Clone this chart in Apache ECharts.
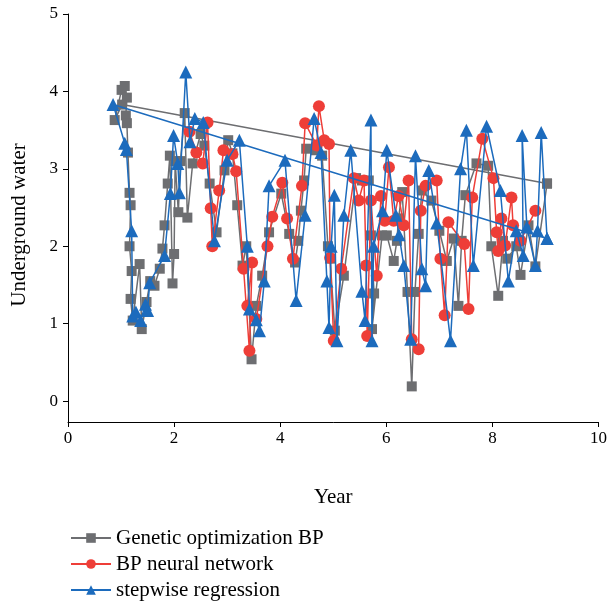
<!DOCTYPE html>
<html><head><meta charset="utf-8">
<script src="https://cdn.jsdelivr.net/npm/echarts@6/dist/echarts.min.js"></script>
<style>html,body{margin:0;padding:0;background:#fff}#c{width:610px;height:606px}</style>
</head><body><div id="c"></div>
<script>
const seriesNames = ['Genetic optimization BP', 'BP neural network', 'stepwise regression'];
const xTicks = [0, 2, 4, 6, 8, 10];
const yTicks = [0, 1, 2, 3, 4, 5];

const geneticBP = [
[9.03,2.81],[1.02,3.83],[0.88,3.63],[1.01,4.02],[1.07,4.07],[1.11,3.92],[1.09,3.69],[1.11,3.59],[1.13,3.21],[1.16,2.69],[1.18,2.53],[1.16,2.0],[1.2,1.68],[1.18,1.32],[1.22,1.04],[1.35,1.77],[1.39,0.93],[1.48,1.28],[1.55,1.55],[1.63,1.49],[1.73,1.71],[1.78,1.97],[1.82,2.27],[1.88,2.81],[1.92,3.17],[1.97,1.52],[2.0,1.9],[2.02,3.1],[2.08,2.44],[2.12,3.1],[2.2,3.72],[2.25,2.37],[2.35,3.07],[2.5,3.45],[2.57,3.3],[2.67,2.81],[2.8,2.18],[2.95,2.98],[3.02,3.37],[3.1,3.2],[3.19,2.53],[3.29,1.75],[3.36,2.0],[3.46,0.54],[3.55,1.23],[3.66,1.62],[3.79,2.18],[4.02,2.68],[4.17,2.16],[4.28,1.79],[4.34,2.07],[4.39,2.46],[4.45,2.85],[4.49,3.26],[4.66,3.24],[4.79,3.17],[4.9,2.0],[4.94,1.84],[5.03,0.91],[5.2,1.62],[5.43,2.88],[5.54,2.85],[5.67,2.85],[5.71,2.14],[5.77,1.39],[5.73,0.93],[5.92,2.14],[6.01,2.14],[6.14,1.81],[6.2,2.07],[6.23,2.36],[6.3,2.7],[6.4,1.41],[6.48,0.19],[6.54,1.41],[6.61,2.16],[6.67,2.72],[6.85,2.59],[7.0,2.2],[7.14,1.81],[7.27,2.1],[7.36,1.23],[7.42,2.07],[7.49,2.66],[7.7,3.07],[7.92,3.04],[7.98,2.0],[8.11,1.36],[8.2,2.07],[8.28,1.84],[8.45,2.0],[8.53,1.63],[8.68,2.27],[8.81,1.74],[9.03,2.81]
];

const bpNetwork = [
[2.29,3.48],[2.42,3.21],[2.54,3.07],[2.63,3.6],[2.69,2.49],[2.72,2.0],[2.85,2.72],[2.93,3.24],[3.1,3.19],[3.17,2.97],[3.31,1.71],[3.42,0.65],[3.47,1.79],[3.38,1.23],[3.55,1.06],[3.76,2.0],[3.85,2.38],[4.04,2.82],[4.13,2.36],[4.24,1.84],[4.41,2.78],[4.47,3.59],[4.69,3.3],[4.73,3.81],[4.83,3.37],[4.92,3.32],[4.94,1.85],[5.01,0.78],[5.15,1.71],[5.39,2.88],[5.48,2.59],[5.58,2.85],[5.62,1.75],[5.64,0.84],[5.71,2.59],[5.82,1.62],[5.9,2.65],[5.97,2.33],[6.05,3.02],[6.14,2.33],[6.23,2.65],[6.33,2.27],[6.42,2.85],[6.48,0.8],[6.61,0.67],[6.65,2.46],[6.74,2.78],[6.95,2.85],[7.02,1.84],[7.1,1.11],[7.17,2.31],[7.47,2.03],[7.55,1.19],[7.62,2.63],[7.81,3.39],[8.02,2.88],[8.08,2.18],[8.11,1.94],[8.17,2.36],[8.24,2.01],[8.36,2.63],[8.39,2.27],[8.53,2.07],[8.81,2.46]
];

const stepwise = [
[9.03,2.1],[0.85,3.83],[1.07,3.33],[1.1,3.25],[1.2,2.2],[1.22,1.1],[1.28,1.15],[1.37,1.04],[1.46,1.25],[1.5,1.17],[1.54,1.53],[1.82,1.88],[1.93,2.68],[1.99,3.43],[2.07,3.07],[2.1,2.69],[2.22,4.25],[2.3,3.35],[2.39,3.65],[2.55,3.6],[2.76,2.07],[3.0,3.11],[3.23,3.37],[3.38,2.0],[3.42,1.19],[3.55,1.05],[3.61,0.91],[3.7,1.55],[3.79,2.78],[4.09,3.11],[4.3,1.3],[4.47,2.4],[4.64,3.65],[4.77,3.21],[4.88,1.55],[4.92,0.95],[4.96,2.0],[5.02,2.66],[5.07,0.78],[5.2,2.4],[5.33,3.24],[5.54,1.42],[5.6,1.04],[5.71,3.63],[5.73,0.78],[5.76,2.0],[5.93,2.46],[6.01,3.24],[6.18,2.4],[6.24,2.15],[6.33,1.75],[6.46,0.8],[6.55,3.17],[6.67,1.71],[6.74,1.49],[6.8,2.98],[6.95,2.3],[7.21,0.78],[7.4,3.0],[7.51,3.5],[7.64,1.75],[7.89,3.55],[8.15,2.72],[8.3,1.55],[8.45,2.2],[8.58,1.88],[8.56,3.43],[8.65,2.25],[8.81,1.75],[8.85,2.2],[8.92,3.47],[9.03,2.1]
];

const colors = ['#6d6e71', '#ee3e38', '#1c6bbd'];
const serif = 'Liberation Serif';

const chart = echarts.init(document.getElementById('c'), null, {renderer: 'canvas'});
chart.setOption({
  animation: false,
  backgroundColor: '#fff',
  grid: {left: 68, right: 10, top: 14, bottom: 184},
  xAxis: {
    type: 'value', min: 0, max: 10, interval: 2,
    name: 'Year', nameLocation: 'middle', nameGap: 65,
    nameTextStyle: {fontFamily: serif, fontSize: 21, color: '#000'},
    axisLine: {onZero: false, lineStyle: {color: '#000', width: 1}},
    axisTick: {show: true, length: 5, lineStyle: {color: '#000'}},
    axisLabel: {fontFamily: serif, fontSize: 17, color: '#000', margin: 8},
    splitLine: {show: false}
  },
  yAxis: {
    type: 'value', min: -0.27, max: 5,
    name: 'Underground water', nameLocation: 'middle', nameGap: 38,
    nameTextStyle: {fontFamily: serif, fontSize: 21, color: '#000', padding: [0, 14, 0, 0]},
    axisLine: {show: true, onZero: false, lineStyle: {color: '#000', width: 1}},
    axisTick: {show: true, length: 5, lineStyle: {color: '#000'}, customValues: yTicks},
    axisLabel: {fontFamily: serif, fontSize: 17, color: '#000', margin: 10, customValues: yTicks},
    splitLine: {show: false}
  },
  legend: {
    orient: 'vertical', left: 70, top: 527, itemWidth: 40, itemHeight: 12, itemGap: 4,
    padding: 0,
    textStyle: {fontFamily: serif, fontSize: 21, lineHeight: 22, color: '#000'},
    data: seriesNames
  },
  series: [
    {name: seriesNames[0], type: 'line', data: geneticBP, symbol: 'rect', symbolSize: 10,
      lineStyle: {color: colors[0], width: 1.5}, itemStyle: {color: colors[0]}, z: 2},
    {name: seriesNames[1], type: 'line', data: bpNetwork, symbol: 'circle', symbolSize: 12,
      lineStyle: {color: colors[1], width: 1.5}, itemStyle: {color: colors[1]}, z: 3},
    {name: seriesNames[2], type: 'line', data: stepwise, symbol: 'triangle', symbolSize: 13,
      lineStyle: {color: colors[2], width: 1.5}, itemStyle: {color: colors[2]}, z: 4}
  ]
});
</script></body></html>
